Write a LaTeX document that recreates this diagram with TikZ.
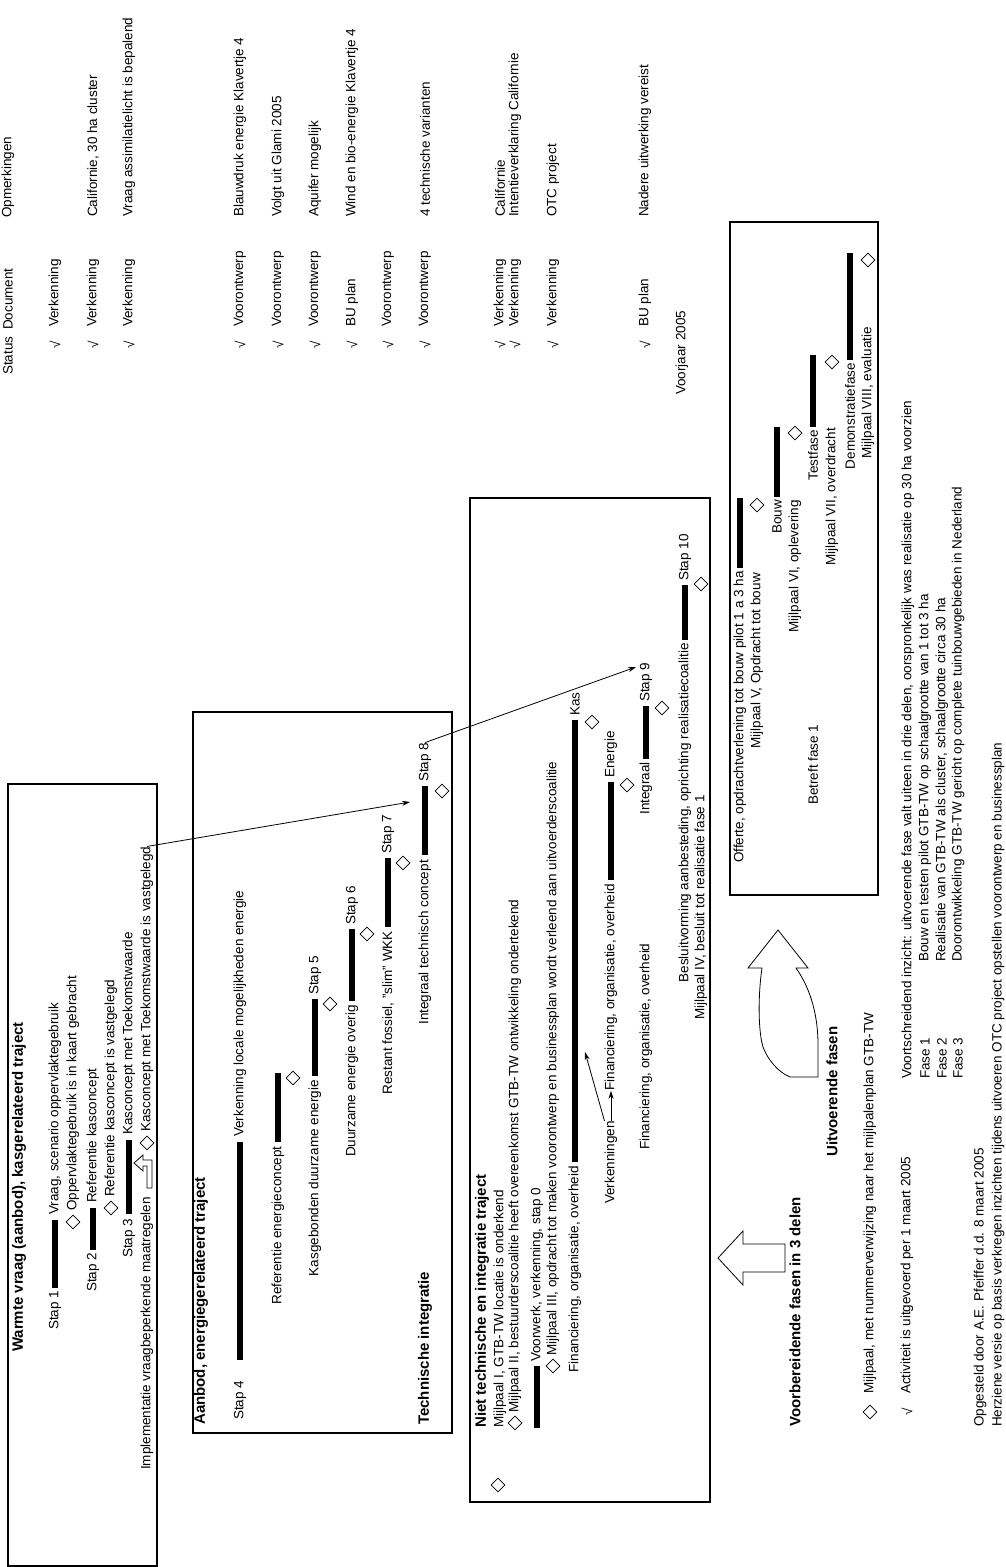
\documentclass[tikz,border=0pt]{standalone}
\usepackage{fontspec}
\setmainfont{Liberation Sans}
\usetikzlibrary{shapes.geometric,arrows.meta}
\newcommand{\gbar}[3]{\fill (#1-3,#2) rectangle (#1+3,#3);}
\begin{document}
\begin{tikzpicture}[x=1pt,y=-1pt,
  txt/.style={rotate=90,inner sep=0pt,font=\fontsize{13.5}{15}\selectfont},
  tw/.style={txt,anchor=west},
  te/.style={txt,anchor=east},
  tc/.style={txt,anchor=center},
  ttl/.style={rotate=90,inner sep=0pt,anchor=west,font=\fontsize{15}{17}\selectfont\bfseries},
  dia/.style={diamond,draw,line width=0.7pt,minimum width=14pt,minimum height=14pt,inner sep=0pt},
  frame/.style={draw,line width=1.8pt},
  arr/.style={draw,line width=0.8pt,-{Stealth[length=8pt,width=5pt]}},
  blockarrow/.style={draw,line width=0.8pt,fill=white,line join=miter}]
\useasboundingbox (0,0) rectangle (1006,1567);

% ---------------- status columns ----------------
\node[tw] (hS) at (8,375) {Status};
\node[tw] (hD) at (8,330) {Document};
\node[tw] (hO) at (8,218) {Opmerkingen};
\foreach \xx/\dd/\oo [count=\i] in {55/Verkenning/,93/Verkenning/{Californie, 30 ha cluster},129/Verkenning/Vraag assimilatielicht is bepalend,240/Voorontwerp/Blauwdruk energie Klavertje 4,278/Voorontwerp/Volgt uit Glami 2005,315/Voorontwerp/Aquifer mogelijk,352/BU plan/Wind en bio-energie Klavertje 4,388/Voorontwerp/,425/Voorontwerp/4 technische varianten,500/Verkenning/Californie,515/Verkenning/Intentieverklaring Californie,553/Verkenning/OTC project,645/BU plan/Nadere uitwerking vereist}{
  \node[tc] (ck\i) at (\xx,345) {√};
  \node[tw] (doc\i) at (\xx,327) {\dd};
  \node[tw] (op\i) at (\xx,217) {\oo};
}
\node[tw] (vj) at (682,395) {Voorjaar 2005};

% ---------------- box 1 ----------------
\draw[frame] (8,784) rectangle (157,1566);
\node[ttl] (t1) at (19,1352) {Warmte vraag (aanbod), kasgerelateerd traject};
\node[tw] (s1) at (55,1330) {Stap 1};
\gbar{55}{1288}{1220}
\node[tw] (a1) at (55,1215) {Vraag, scenario oppervlaktegebruik};
\node[dia] (m1) at (73,1222) {};
\node[tw] (a1m) at (73,1211) {Oppervlaktegebruik is in kaart gebracht};
\node[tw] (s2) at (93,1292) {Stap 2};
\gbar{93}{1250}{1208}
\node[tw] (a2) at (93,1203) {Referentie kasconcept};
\node[dia] (m2) at (111,1208) {};
\node[tw] (a2m) at (111,1197) {Referentie kasconcept is vastgelegd};
\node[tw] (s3) at (129,1258) {Stap 3};
\gbar{129}{1214}{1140}
\node[tw] (a3) at (129,1135) {Kasconcept met Toekomstwaarde};
\node[tw] (imp) at (147,1470) {Implementatie vraagbeperkende maatregelen};
\draw[blockarrow] (152,1188) -- (152,1160) -- (143,1160) -- (143,1155) -- (134,1163) -- (143,1171) -- (143,1166) -- (147,1166) -- (147,1188) -- cycle;
\node[dia] (m3) at (147,1143) {};
\node[tw] (k6) at (147,1132) {Kasconcept met Toekomstwaarde is vastgelegd};

% ---------------- box 2 ----------------
\draw[frame] (193,712) rectangle (452,1433);
\node[ttl] (t2) at (201,1425) {Aanbod, energiegerelateerd traject};
\node[tw] (s4) at (240,1420) {Stap 4};
\gbar{240}{1360}{1142}
\node[tw] (a4) at (240,1137) {Verkenning locale mogelijkheden energie};
\node[te] (re) at (278,1146) {Referentie energieconcept};
\gbar{278}{1142}{1073}
\node[dia] (m4) at (293,1078) {};
\node[te] (a5) at (315,1080) {Kasgebonden duurzame energie};
\gbar{315}{1076}{999}
\node[tw] (s5) at (315,995) {Stap 5};
\node[dia] (m5) at (330,1004) {};
\node[te] (a6) at (352,1005) {Duurzame energie overig};
\gbar{352}{1001}{929}
\node[tw] (s6) at (352,925) {Stap 6};
\node[dia] (m6) at (367,934) {};
\node[te] (a7) at (388,931) {Restant fossiel, "slim" WKK};
\gbar{388}{927}{858}
\node[tw] (s7) at (388,854) {Stap 7};
\node[dia] (m7) at (403,863) {};
\node[ttl] (ti) at (425,1425) {Technische integratie};
\node[te] (a8) at (425,860) {Integraal technisch concept};
\gbar{425}{855}{786}
\node[tw] (st8) at (425,782) {Stap 8};
\node[dia] (m8) at (442,791) {};
\coordinate (c8) at (410,802);
\draw[arr] (k6.east) -- (c8);

% ---------------- box 3 ----------------
\draw[frame] (470,498) rectangle (710,1502);
\node[ttl] (t3) at (482,1428) {Niet technische en integratie traject};
\node[dia] (mI) at (498,1485) {};
\node[tw] (b1) at (500,1428) {Mijlpaal I, GTB-TW locatie is onderkend};
\node[dia] (mII) at (515,1423) {};
\node[tw] (b2) at (515,1413) {Mijlpaal II, bestuurderscoalitie heeft overeenkomst GTB-TW ontwikkeling ondertekend};
\gbar{537}{1428}{1366}
\node[tw] (b3) at (537,1362) {Voorwerk, verkenning, stap 0};
\node[dia] (mIII) at (553,1366) {};
\node[tw] (b4) at (553,1356) {Mijlpaal III, opdracht tot maken voorontwerp en businessplan wordt verleend aan uitvoerderscoalitie};
\node[te] (f1) at (575,1166) {Financiering, organisatie, overheid};
\gbar{575}{1162}{720}
\node[tw] (kas) at (575,716) {Kas};
\node[dia] (mk) at (592,722) {};
\node[tw] (vk) at (611,1204) {Verkenningen};
\node[te] (f2) at (611,884) {Financiering, organisatie, overheid};
\gbar{611}{880}{782}
\node[tw] (en) at (611,778) {Energie};
\node[dia] (me) at (627,785) {};
\node[tw] (f3) at (646,1150) {Financiering, organisatie, overheid};
\node[te] (ig) at (646,762) {Integraal};
\gbar{646}{759}{706}
\node[tw] (st9) at (646,702) {Stap 9};
\node[dia] (m9) at (662,708) {};
\node[te] (bv) at (685,643) {Besluitvorming aanbesteding, oprichting realisatiecoalitie};
\gbar{685}{640}{585}
\node[tw] (st10) at (685,581) {Stap 10};
\node[dia] (m10) at (701,584) {};
\node[te] (mIV) at (701,795) {Mijlpaal IV, besluit tot realisatie fase 1};
\coordinate (c9) at (636,667);
\draw[arr] (st8.east) -- (c9);
\coordinate (ck) at (585,1052);
\draw[arr] (vk.east) -- (f2.west);
\draw[arr] (vk.north east) -- (ck);

% ---------------- box 4 ----------------
\draw[frame] (730,222) rectangle (878,895);
\node[te] (u1) at (740,571) {Offerte, opdrachtverlening tot bouw pilot 1 a 3 ha};
\gbar{740}{568}{498}
\node[te] (mV) at (757,573) {Mijlpaal V, Opdracht tot bouw};
\node[dia] (dV) at (757,505) {};
\node[te] (u2) at (777,500) {Bouw};
\gbar{777}{497}{427}
\node[te] (mVI) at (795,500) {Mijlpaal VI, oplevering};
\node[dia] (dVI) at (795,433) {};
\node[tw] (bf) at (813,805) {Betreft fase 1};
\node[te] (u3) at (813,430) {Testfase};
\gbar{813}{427}{355}
\node[te] (mVII) at (832,428) {Mijlpaal VII, overdracht};
\node[dia] (dVII) at (832,362) {};
\node[te] (u4) at (850,363) {Demonstratiefase};
\gbar{850}{360}{253}
\node[te] (mVIII) at (868,327) {Mijlpaal VIII, evaluatie};
\node[dia] (dVIII) at (868,260) {};

% ---------------- legend ----------------
\draw[blockarrow] (718,1258) -- (743,1231) -- (743,1244) -- (785,1244) -- (785,1272) -- (743,1272) -- (743,1285) -- cycle;
\node[ttl] (vb) at (795,1427) {Voorbereidende fasen in 3 delen};
\draw[blockarrow] (790,1077) -- (818,1077) -- (818,1045) .. controls (818,1010) and (808,985) .. (796,968) -- (808,968) -- (778,930) -- (748,968) -- (762,968) .. controls (758,995) and (758,1030) .. (763,1047) .. controls (768,1060) and (778,1072) .. (790,1077) -- cycle;
\node[ttl] (uf) at (832,1157) {Uitvoerende fasen};
\node[dia] (lm) at (870,1412) {};
\node[tw] (l1) at (870,1394) {Mijlpaal, met nummerverwijzing naar het mijlpalenplan GTB-TW};
\node[tc] (lc) at (907,1412) {√};
\node[tw] (l2) at (907,1394) {Activiteit is uitgevoerd per 1 maart 2005};
\node[tw] (vi) at (908,1079) {Voortschreidend inzicht: uitvoerende fase valt uiteen in drie delen, oorspronkelijk was realisatie op 30 ha voorzien};
\node[tw] (fa1) at (925,1079) {Fase 1};
\node[tw] (fb1) at (925,962) {Bouw en testen pilot GTB-TW op schaalgrootte van 1 tot 3 ha};
\node[tw] (fa2) at (942,1079) {Fase 2};
\node[tw] (fb2) at (942,962) {Realisatie van GTB-TW als cluster, schaalgrootte circa 30 ha};
\node[tw] (fa3) at (958,1079) {Fase 3};
\node[tw] (fb3) at (958,962) {Doorontwikkeling GTB-TW gericht op complete tuinbouwgebieden in Nederland};
\node[tw] (op) at (980,1427) {Opgesteld door A.E. Pfeiffer d.d. 8 maart 2005};
\node[tw] (hz) at (998,1427) {Herziene versie op basis verkregen inzichten tijdens uitvoeren OTC project opstellen voorontwerp en businessplan};
\end{tikzpicture}
\end{document}
